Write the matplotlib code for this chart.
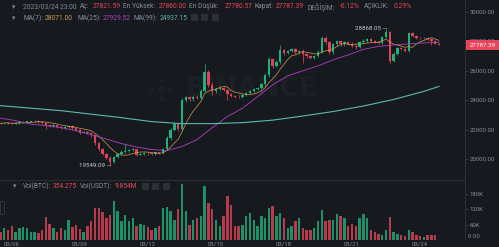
import matplotlib
matplotlib.use("Agg")
import matplotlib.pyplot as plt
import numpy as np
import pandas as pd
from matplotlib.patches import Rectangle

# ---------------- data (4h candles, 2023/03/05 15:00 -> 2023/03/24 23:00) ----------------
first_open = 22450
closes = [
    22420, 22480, 22440, 22410, 22450, 22490, 22530, 22550, 22570, 22580,
    22530, 22470, 22330, 22260, 22300, 22180, 22120, 22200, 22230, 22080,
    21980, 21800, 21860, 21780, 21620, 21100, 20650, 20350, 20100, 19800,
    20150, 20350, 20500, 20550, 20600, 20650, 20300, 20350, 20420, 20380,
    20330, 20450, 20400, 20700, 21400, 22000, 22350, 22050, 24000, 24200,
    24050, 24250, 24150, 24650, 25950, 25050, 24600, 24750, 24850, 24700,
    24400, 24300, 24250, 24200, 24350, 24500, 24650, 24750, 24850, 25100,
    25700, 26800, 26350, 26600, 27400, 27200, 27350, 27450, 27250, 27350,
    27150, 27000, 26900, 27000, 27300, 28250, 27950, 27250, 27800, 28000,
    27800, 27950, 27850, 27700, 27600, 27950, 28050, 28150, 28050, 27950,
    27900, 28300, 28650, 26700, 27150, 27550, 27480, 27380, 28550, 28380,
    28250, 28200, 28230, 28150, 28060, 27821.59, 27787.39,
]
upper_wick = [
    50, 40, 60, 40, 50, 60, 40, 50, 40, 50,
    60, 50, 70, 60, 50, 40, 50, 60, 40, 50,
    60, 80, 50, 60, 90, 100, 80, 70, 60, 80,
    60, 70, 80, 450, 60, 80, 60, 50, 70, 60,
    50, 60, 50, 80, 150, 100, 150, 80, 120, 90,
    80, 100, 70, 100, 500, 100, 200, 80, 90, 60,
    90, 70, 60, 80, 60, 70, 60, 50, 70, 90,
    120, 150, 100, 120, 360, 90, 80, 100, 70, 90,
    120, 80, 90, 70, 120, 150, 100, 90, 110, 100,
    90, 80, 70, 90, 100, 80, 90, 110, 80, 70,
    60, 80, 218.05, 60, 100, 90, 80, 70, 100, 60,
    70, 60, 60, 50, 60, 40, 38.41,
]
lower_wick = [
    50, 40, 60, 50, 40, 50, 60, 40, 50, 40,
    60, 70, 280, 60, 50, 70, 60, 50, 60, 80,
    70, 90, 60, 80, 100, 120, 100, 90, 110, 251,
    80, 70, 90, 80, 100, 70, 90, 60, 70, 80,
    70, 60, 80, 90, 100, 120, 110, 150, 100, 120,
    90, 80, 100, 90, 120, 150, 250, 90, 80, 100,
    380, 90, 80, 70, 60, 80, 70, 60, 70, 80,
    100, 120, 150, 120, 110, 130, 90, 80, 110, 90,
    600, 100, 120, 90, 80, 100, 120, 100, 110, 90,
    100, 80, 90, 100, 90, 80, 70, 90, 100, 80,
    90, 70, 80, 160, 90, 100, 80, 90, 80, 70,
    80, 60, 70, 80, 300, 30, 6.82,
]
volumes_k = [
    33, 47, 40, 53, 33, 47, 50, 47, 31, 31,
    28, 40, 88, 62, 47, 33, 47, 40, 79, 50,
    57, 44, 33, 53, 75, 125, 125, 108, 86, 99,
    151, 112, 73, 99, 73, 86, 53, 62, 60, 50,
    40, 47, 53, 125, 128, 112, 79, 119, 217, 112,
    60, 79, 86, 92, 211, 145, 119, 79, 53, 92,
    171, 138, 53, 53, 60, 92, 105, 79, 53, 92,
    86, 123, 132, 95, 105, 86, 47, 53, 73, 86,
    47, 40, 40, 47, 73, 116, 73, 79, 79, 102,
    95, 86, 53, 62, 53, 86, 102, 86, 40, 33,
    22, 20, 40, 88, 33, 22, 20, 17, 40, 33,
    20, 17, 13, 20, 20, 20, 0.354,
]
ma25_idx = list(range(0, 117, 4))
ma25_vals = [22779, 22610, 22373, 22271, 22135, 21932, 21660, 21356, 21050, 20813,
             20644, 20576, 20847, 21322, 22135, 22881, 23457, 24237, 25051, 25661,
             26000, 26339, 26746, 27085, 27458, 27661, 27763, 27830, 27898, 27929.52]
ma99_idx = [0, 8, 16, 24, 32, 40, 48, 56, 64, 72, 80, 88, 96, 104, 112, 116]
ma99_vals = [23627, 23457, 23288, 23050, 22813, 22542, 22406, 22406, 22474, 22644,
             22925, 23230, 23605, 24050, 24600, 24937.15]
date_labels = ["03/06", "03/09", "03/12", "03/15", "03/18", "03/21", "03/24"]
date_idx = [3, 21, 39, 57, 75, 93, 111]
price_ticks = [20000, 22000, 24000, 26000, 28000, 30000]
vol_ticks = [60000, 120000, 180000]
vol_tick_labels = ["60K", "120K", "180K"]

hdr_labels = ["2023/03/24 23:00", "Aç:", "27821.59", "En Yüksek:", "27860.00", "En Düşük:",
              "27780.57", "Kapat:", "27787.39", "DEĞİŞİM:", "-0.12%", "AÇIKLIK:", "0.29%"]
ma_labels = ["MA(7):", "28071.00", "MA(25):", "27929.52", "MA(99):", "24937.15"]
vol_labels = ["Vol(BTC):", "354.275", "Vol(USDT):", "9.854M"]
last_price = "27787.39"
hi_label, hi_idx = "28868.05", 102
lo_label, lo_idx = "19549.09", 29

# ---------------- style / layout ----------------
W, H = 499, 247
BG = "#161a1e"
UP = "#20b07c"
DOWN = "#e2435a"
GRAY = "#848e9c"
GRID = "#1a1e23"
LINE = "#2b3139"
RED = "#e8485d"
C_MA7 = "#cf9a52"
C_MA25 = "#b03fc2"
C_MA99 = "#5cb8b2"
FONT = ["Roboto", "DejaVu Sans"]
plt.rcParams["font.family"] = FONT
FS = 4.8

hdr_x = [23, 80, 93, 123, 159, 189, 225, 255, 276, 307, 340, 364, 394]
hdr_c = [GRAY, GRAY, RED, GRAY, RED, GRAY, RED, GRAY, RED, GRAY, RED, GRAY, RED]
ma_x = [23, 45, 77, 103, 134, 160]
ma_c = [GRAY, C_MA7, GRAY, C_MA25, GRAY, C_MA99]
vol_x = [23, 53, 80, 115]
vol_c = [GRAY, RED, GRAY, RED]

fig = plt.figure(figsize=(W / 100, H / 100), dpi=100, facecolor=BG)


def fbox(x0, y0, x1, y1):
    return [x0 / W, 1 - y1 / H, (x1 - x0) / W, (y1 - y0) / H]


ax = fig.add_axes(fbox(0, 0, 465, 180), facecolor=BG)
axv = fig.add_axes(fbox(0, 180, 465, 240), facecolor=BG, sharex=ax)

n = len(closes)
idx = np.arange(n)
c = np.array(closes, dtype=float)
o = np.array([first_open] + closes[:-1], dtype=float)
hi = np.maximum(o, c) + np.array(upper_wick)
lo = np.minimum(o, c) - np.array(lower_wick)
up = c >= o
cols = np.where(up, UP, DOWN)


def price_at(ypx):
    return 30000 - (ypx - 12) * (10000 / 147)


ax.set_ylim(price_at(180), price_at(0))
ax.set_xlim((0 - 0.5) / 3.78, (465 - 0.5) / 3.78)
axv.set_ylim(0, 60 / 0.257 * 1000)

# grid
for a in (ax, axv):
    for d in date_idx:
        a.axvline(d, color=GRID, lw=0.6, zorder=0)
for p in price_ticks:
    ax.axhline(p, color=GRID, lw=0.6, zorder=0)

# watermark
WM = "#1c2025"
ax.text(0.40, 0.505, "BINANCE", transform=ax.transAxes, fontsize=19, fontweight="bold",
        family="DejaVu Sans", color=WM, ha="left", va="center", zorder=0.5)
lx, ly = 161 / 465, 1 - 89 / 180
for dx, dy, ms in [(0, 0, 5.0), (-9, 0, 3.2), (9, 0, 3.2), (0, -9, 3.2), (0, 9, 3.2)]:
    ax.plot([lx + dx / 465], [ly + dy / 180], marker="D", ms=ms, color=WM,
            transform=ax.transAxes, zorder=0.5, mec="none")

# candles
ax.vlines(idx, lo, hi, colors=cols, lw=0.55, zorder=2)
body = np.maximum(np.abs(c - o), 45)
ax.bar(idx, body, bottom=np.minimum(o, c), width=0.64, color=cols, lw=0, zorder=3)

# moving averages
ma7 = pd.Series(c).rolling(7, min_periods=1).mean()
ax.plot(idx, ma7, color=C_MA7, lw=0.5, zorder=4)
ax.plot(ma25_idx, ma25_vals, color=C_MA25, lw=0.6, zorder=4)
ax.plot(ma99_idx, ma99_vals, color=C_MA99, lw=0.8, zorder=4)

# high / low labels
ax.text(hi_idx + 0.3, hi[hi_idx], hi_label + " —", ha="right", va="center",
        fontsize=4.4, color="#c9cdd3", zorder=5)
ax.text(lo_idx + 0.3, lo[lo_idx], lo_label + " —", ha="right", va="center",
        fontsize=4.4, color="#c9cdd3", zorder=5)

# volume bars
axv.bar(idx, np.array(volumes_k) * 1000, width=0.64, color=cols, alpha=0.8, lw=0, zorder=3)

# axes styling
for a in (ax, axv):
    for s in ("left", "top", "bottom"):
        a.spines[s].set_visible(False)
    a.spines["right"].set_color(LINE)
    a.spines["right"].set_linewidth(0.7)
    a.yaxis.tick_right()
    a.tick_params(axis="y", direction="out", length=2, width=0.5, color="#474d57",
                  pad=1.5, labelsize=4.3, labelcolor=GRAY)
axv.spines["top"].set_visible(True)
axv.spines["top"].set_color(LINE)
axv.spines["top"].set_linewidth(0.7)

ax.set_yticks(price_ticks)
ax.set_yticklabels([f"{p:.2f}" for p in price_ticks])
axv.set_yticks(vol_ticks)
axv.set_yticklabels(vol_tick_labels)
axv.text(1.0, 3.5 / 60, "  0.00", transform=axv.transAxes, fontsize=4.3, color=GRAY,
         ha="left", va="center")
ax.tick_params(axis="x", length=0, labelbottom=False)
axv.set_xticks(date_idx)
axv.set_xticklabels(date_labels)
axv.tick_params(axis="x", length=0, pad=1.2, labelsize=4.3, labelcolor=GRAY)

# current price box
fig.patches.append(Rectangle((466 / W, 1 - 50.5 / H), 33 / W, 10 / H, transform=fig.transFigure,
                             facecolor="#e8445b", edgecolor="none", zorder=10))
fig.text(482.5 / W, 1 - 45.5 / H, last_price, color="white", fontsize=4.4, ha="center",
         va="center", zorder=11)


# header texts
def row(y, labels, xs, colors, arrow_x):
    fig.text(arrow_x / W, 1 - y / H, "▾", color=GRAY, fontsize=FS, family="DejaVu Sans",
             ha="center", va="center")
    for s, x, col in zip(labels, xs, colors):
        fig.text(x / W, 1 - y / H, s, color=col, fontsize=FS, ha="left", va="center")


def boxes(y, xs):
    for bx in xs:
        fig.patches.append(Rectangle((bx / W, 1 - (y + 3.5) / H), 7 / W, 7 / H,
                                     transform=fig.transFigure, facecolor="#2b2f36",
                                     edgecolor="none", zorder=10))


row(7, hdr_labels, hdr_x, hdr_c, 14)
row(18, ma_labels, ma_x, ma_c, 14)
boxes(18, [191, 201, 212])
row(186.5, vol_labels, vol_x, vol_c, 15)
boxes(186.5, [142, 152, 163])

# small collapse handle on left of volume pane
fig.patches.append(Rectangle((0.3 / W, 1 - 214 / H), 3.5 / W, 13 / H, transform=fig.transFigure,
                             facecolor="none", edgecolor="#3a4048", lw=0.5, zorder=10))

fig.savefig("out.png", dpi=100, facecolor=BG)
